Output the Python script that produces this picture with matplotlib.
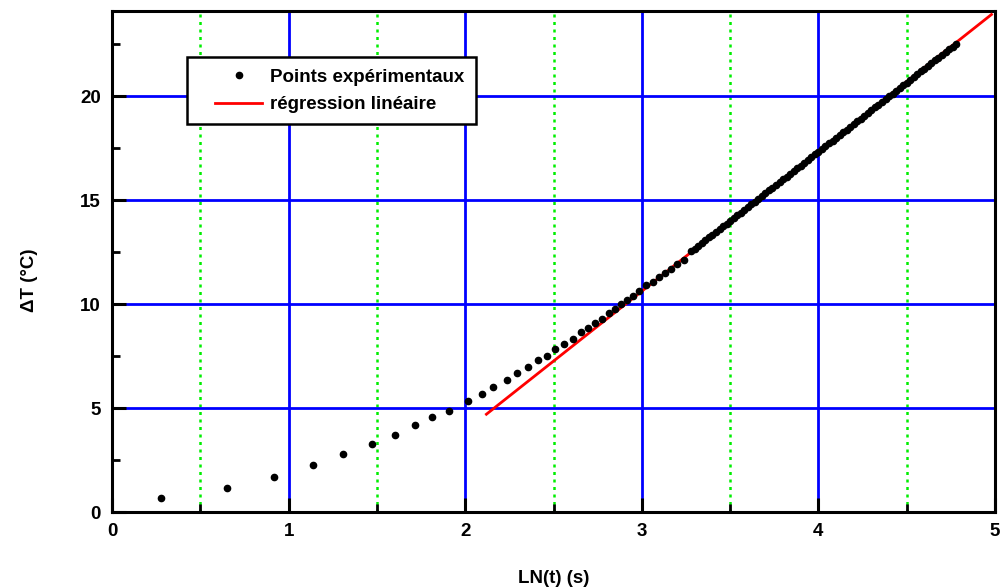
import matplotlib
matplotlib.use("Agg")
import matplotlib.pyplot as plt
from matplotlib.ticker import MultipleLocator
from matplotlib.legend_handler import HandlerLine2D

pts_x = [0.277, 0.649, 0.92, 1.139, 1.308, 1.474, 1.603, 1.716, 1.814, 1.908,
         2.015, 2.094, 2.16, 2.236, 2.296, 2.357, 2.411, 2.462, 2.511, 2.562,
         2.613, 2.658, 2.694, 2.733, 2.775, 2.817, 2.85, 2.884, 2.917, 2.948,
         2.986, 3.024, 3.062, 3.096, 3.13, 3.165, 3.2, 3.24,
         3.28, 3.30, 3.32, 3.34, 3.36, 3.38, 3.40, 3.42, 3.44, 3.46, 3.48,
         3.50, 3.52, 3.54, 3.56, 3.58, 3.60, 3.62, 3.64, 3.66, 3.68, 3.70,
         3.72, 3.74, 3.76, 3.78, 3.80, 3.82, 3.84, 3.86, 3.88, 3.90, 3.92,
         3.94, 3.96, 3.98, 4.00, 4.02, 4.04, 4.06, 4.08, 4.10, 4.12, 4.14,
         4.16, 4.18, 4.20, 4.22, 4.24, 4.26, 4.28, 4.30, 4.32, 4.34, 4.36,
         4.38, 4.40, 4.42, 4.44, 4.46, 4.48, 4.50, 4.52, 4.54, 4.56, 4.58,
         4.60, 4.62, 4.64, 4.66, 4.68, 4.70, 4.72, 4.74, 4.76, 4.78]
pts_y = [0.66, 1.17, 1.70, 2.29, 2.79, 3.30, 3.73, 4.18, 4.58, 4.87,
         5.34, 5.67, 6.03, 6.35, 6.67, 6.99, 7.31, 7.53, 7.84, 8.11,
         8.33, 8.67, 8.88, 9.12, 9.31, 9.58, 9.79, 10.0, 10.19, 10.4,
         10.64, 10.91, 11.07, 11.31, 11.5, 11.71, 11.92, 12.15,
         12.55, 12.68, 12.82, 12.95, 13.08, 13.22, 13.35, 13.48, 13.61, 13.75, 13.88,
         14.01, 14.15, 14.28, 14.41, 14.55, 14.68, 14.81, 14.94, 15.08, 15.21, 15.34,
         15.48, 15.61, 15.74, 15.88, 16.01, 16.14, 16.27, 16.41, 16.54, 16.67, 16.81,
         16.94, 17.07, 17.21, 17.34, 17.47, 17.60, 17.74, 17.87, 18.00, 18.14, 18.27,
         18.40, 18.54, 18.67, 18.80, 18.93, 19.07, 19.20, 19.33, 19.47, 19.60, 19.73,
         19.87, 20.00, 20.13, 20.26, 20.40, 20.53, 20.66, 20.80, 20.93, 21.06, 21.20,
         21.33, 21.46, 21.59, 21.73, 21.86, 21.99, 22.13, 22.26, 22.39, 22.52]

# Linear regression line end points
reg_x = [2.12, 4.98]
reg_y = [4.71, 23.94]

x_ticks = [0, 1, 2, 3, 4, 5]
y_ticks = [0, 5, 10, 15, 20]

plt.rcParams['font.family'] = ['Liberation Sans', 'DejaVu Sans']

fig = plt.figure(figsize=(10, 5.88), dpi=100)
ax = fig.add_axes([0.112, 0.129, 0.883, 0.852])

ax.set_xlim(0, 5)
ax.set_ylim(0, 24.1)

ax.set_xticks(x_ticks)
ax.set_yticks(y_ticks)
ax.xaxis.set_minor_locator(MultipleLocator(0.5))
ax.yaxis.set_minor_locator(MultipleLocator(2.5))

# grid
ax.grid(which='major', color='#0000ff', linestyle='-', linewidth=2.0, zorder=0)
ax.grid(which='minor', axis='x', color='#00ee00', linestyle=(0, (1.2, 1.8)), linewidth=1.8, zorder=0)
ax.set_axisbelow(True)

ax.plot(reg_x, reg_y, color='#ff0000', linewidth=2.0, label='régression linéaire', zorder=3)
ax.plot(pts_x, pts_y, linestyle='none', marker='o', markersize=4.5, color='black',
        label='Points expérimentaux', zorder=4)

for s in ax.spines.values():
    s.set_linewidth(2.2)
    s.set_color('black')

ax.tick_params(which='major', direction='in', length=10, width=2.2, top=False, right=False,
               labelsize=13.5, pad=8)
ax.tick_params(which='minor', direction='in', length=6, width=2.0, top=False, right=False)
for lab in ax.get_xticklabels() + ax.get_yticklabels():
    lab.set_fontweight('bold')

ax.set_xlabel('LN(t) (s)', fontsize=13.5, fontweight='bold')
ax.xaxis.set_label_coords(0.5, -0.115)
ax.set_ylabel('ΔT (°C)', fontsize=13.5, fontweight='bold')
ax.yaxis.set_label_coords(-0.084, 0.463)

handles, labels = ax.get_legend_handles_labels()
hmap = {h: HandlerLine2D(xpad=0.9) for h in handles}
leg = ax.legend(handles[::-1], labels[::-1], loc='upper left', bbox_to_anchor=(0.085, 0.908),
                borderaxespad=0, fancybox=False, framealpha=1, edgecolor='black',
                numpoints=1, handlelength=3.4, handletextpad=0.43,
                prop={'weight': 'bold', 'size': 13.5},
                borderpad=0.6, labelspacing=0.55, handler_map=hmap)
leg.get_frame().set_linewidth(1.8)

fig.savefig('out.png', dpi=100)
